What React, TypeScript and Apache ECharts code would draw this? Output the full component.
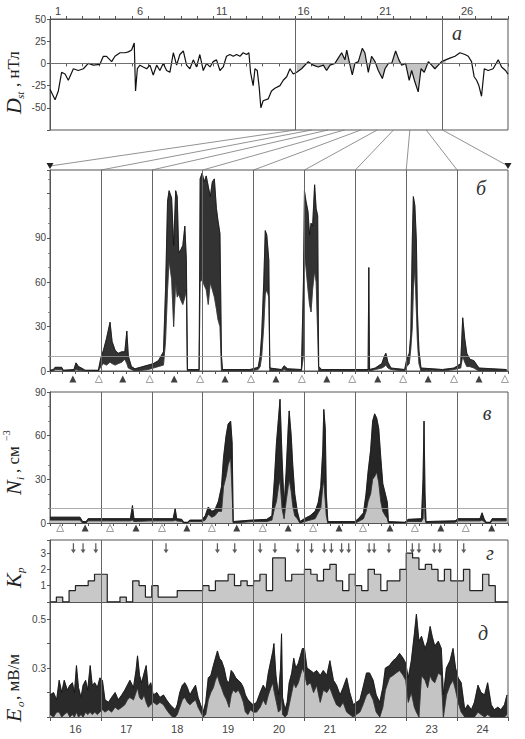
import React, { useEffect, useRef } from 'react';
import * as echarts from 'echarts';

// ---------- Panel а: Dst, nT (days of month) ----------
const DST_DAYS = [1.0,1.31,1.51,1.71,1.92,2.12,2.43,2.73,3.04,3.34,3.65,4.05,4.26,4.46,4.77,4.97,5.28,5.58,5.79,5.99,6.15,6.23,6.34,6.5,6.7,6.91,7.11,7.31,7.52,7.72,7.92,8.13,8.33,8.54,8.74,8.94,9.15,9.35,9.55,9.76,9.96,10.16,10.37,10.57,10.78,10.98,11.18,11.39,11.59,11.79,12.0,12.2,12.41,12.61,12.81,13.02,13.16,13.26,13.42,13.53,13.67,13.79,13.89,14.03,14.34,14.54,14.75,15.06,15.26,15.47,15.67,15.87,16.08,16.38,16.79,17.09,17.4,17.71,17.91,18.12,18.42,18.62,18.83,19.03,19.14,19.34,19.48,19.64,19.85,20.09,20.25,20.46,20.66,20.87,21.07,21.32,21.48,21.69,21.89,22.13,22.33,22.5,22.74,22.96,23.11,23.31,23.51,23.68,23.88,24.13,24.33,24.53,24.74,24.94,25.19,25.45,25.76,26.06,26.37,26.57,26.77,26.93,27.08,27.22,27.38,27.55,27.79,28.09,28.4,28.61,28.85,29.0];
const DST_VALUES = [-29,-41,-31,-10,-12,-19,-6,-8,-6,0,-2,-1,8,8,2,8,12,12,13,15,23,-31,-6,-2,-4,-6,-2,-13,-2,-8,0,-8,-10,12,-2,10,14,-2,-6,4,-4,10,-8,0,-4,2,4,-8,-4,8,10,8,10,8,12,10,12,-10,-25,-6,-8,-27,-50,-42,-40,-31,-28,-25,-19,-15,-6,-12,-10,-6,2,-2,-4,-2,-8,-2,0,6,12,4,15,-2,-13,0,2,17,12,-10,8,2,-8,-17,-6,0,0,14,4,-2,0,-19,-8,-21,-32,-6,-10,2,-2,-6,-2,2,4,6,8,12,10,8,2,-15,-19,-25,-37,-6,-8,-6,4,-4,-8,-12];
const TOP_DAY_LABELS = ['1','2','3','4','5','6','7','8','9','10','11','12','13','14','15','16','17','18','19','20','21','22','23','24','25','26','27','28'];
const DST_TICKS = [-75, -50, -25, 0, 25, 50];

// ---------- Panel б ----------
const B_DAYS = [16.0,16.065,16.1,16.23,16.26,16.47,16.51,16.56,16.62,16.69,16.95,17.0,17.05,17.11,17.18,17.22,17.28,17.34,17.41,17.47,17.51,17.54,17.6,17.67,17.93,18.03,18.13,18.23,18.27,18.31,18.34,18.39,18.43,18.47,18.5,18.53,18.57,18.61,18.65,18.68,18.7,18.93,18.95,18.99,19.03,19.07,19.11,19.15,19.19,19.23,19.27,19.3,19.34,19.37,19.39,19.93,20.09,20.13,20.16,20.2,20.23,20.26,20.3,20.32,20.55,20.6,20.67,20.94,20.98,21.0,21.03,21.07,21.1,21.13,21.16,21.2,21.23,21.26,21.28,21.34,22.25,22.265,22.28,22.39,22.52,22.57,22.6,22.64,22.7,22.97,23.01,23.06,23.09,23.12,23.14,23.17,23.2,23.22,23.25,23.29,23.52,23.71,23.94,24.07,24.11,24.15,24.19,24.25,24.33,24.43,24.97];
const B_LOW = [0,0,1,1,0,0,1,0.5,0.5,0,0,3,5,4,6,5,4,5,6,8,5,2,1,0,1,2,3,4,20,55,75,62,30,60,50,52,48,45,50,55,0,0,60,62,58,55,45,60,55,50,42,35,30,0,0,0,1,3,10,30,52,55,50,0,0,1,0,0,10,80,70,55,45,40,55,68,60,25,0,0,0,2,0,1,2,3,4,2,1,0,3,5,15,30,55,70,40,20,5,0,0.5,0,1,2,10,6,3,3,2,0,0];
const B_HIGH = [0.5,1,2.5,2.5,0.5,1,5.5,3,2,0.5,0.5,9,14,22,33,20,14,12,13,13,27,10,3,1.5,4,5,7,13,55,115,122,117,85,122,118,80,82,85,98,75,1,1,130,134,128,132,125,118,128,130,110,102,93,10,1,1,2.5,10,25,60,95,92,75,2,1,3.5,1.5,1,60,122,115,108,92,100,98,126,110,105,3,1,1,70,1,2,5,10,12,6,2,1,8,12,25,90,118,112,88,40,14,2,1.5,1,2,5,36,22,12,8,7,2,1];
const B_TICKS = [0, 30, 60, 90];
const B_TRI_OPEN = [16.96,17.96,18.95,19.95,20.95,21.94,22.94,23.94,24.94];
const B_TRI_FILLED = [16.45,17.43,18.44,19.44,20.44,21.44,22.44,23.43,24.43];

// ---------- Panel в: Ni, cm^-3 ----------
const V_DAYS = [16.0,16.33,16.59,16.64,16.71,16.75,17.18,17.58,17.62,17.65,17.96,18.42,18.46,18.49,18.59,18.63,18.7,18.75,18.98,19.05,19.11,19.18,19.24,19.31,19.37,19.41,19.46,19.5,19.55,19.58,19.6,19.96,20.26,20.36,20.41,20.45,20.49,20.52,20.56,20.6,20.64,20.68,20.7,20.74,20.77,20.81,20.86,20.91,21.0,21.11,21.21,21.27,21.32,21.36,21.38,21.41,21.43,21.46,21.99,22.06,22.16,22.21,22.25,22.3,22.34,22.38,22.42,22.46,22.5,22.54,22.59,22.63,22.65,22.97,23.04,23.3,23.33,23.35,23.37,23.39,23.96,24.02,24.45,24.49,24.53,24.57,24.65,24.69,24.97];
const V_LOW = [2,2,2,0,0,1.5,1.5,1.5,2,1,1.5,1.5,2,1.5,1,0,0,1,1,2,6,4,5,8,8,25,32,40,45,20,0,1,1,2,10,15,25,30,10,3,15,25,30,22,12,5,3,0,1,2,3,7,10,25,30,15,5,0,0,1,3,8,15,20,30,32,35,28,15,8,5,3,0,0,1,1,3,20,3,0,0.5,1.5,1.5,2,1,0,0,1.5,1.5];
const V_HIGH = [4,4,4,1,1,3,3,3,12,3,3,3,10,3,2.5,0.5,0.5,2,2,5,11,8,9,15,25,45,60,68,70,55,1,2,2.5,5,30,55,72,85,45,12,35,65,77,60,40,20,8,1,3,5,8,14,25,50,78,65,20,1,1,3,7,20,35,50,70,75,72,65,45,27,20,14,1,0.5,2.5,3,30,70,20,1,1.5,3,3,7,3,0.5,0.5,3,3];
const V_TICKS = [0, 30, 60, 90];
const V_TRI_OPEN = [16.2,17.18,18.2,19.18,20.18,21.17,22.15,23.17,24.17];
const V_TRI_FILLED = [16.69,17.69,18.69,19.67,20.68,21.68,22.68,23.68,24.68];

// ---------- Panel г: Kp, 3-hour values from 16 to 24 ----------
const KP_VALUES = [
  0,0.3,0,0.7,1.0,1.0,1.3,1.7,
  1.7,0,0,0.3,0,1.3,1.0,0.3,
  1.0,0.3,0.3,0.3,0.7,0.7,0.7,0.7,
  1.0,0.7,1.3,1.3,1.7,1.0,1.3,1.0,
  1.3,1.7,0.7,2.7,2.7,1.3,1.7,1.7,
  2.0,1.7,1.3,2.0,2.3,1.3,0.7,1.7,
  1.0,0.7,2.0,1.7,0.7,1.3,1.3,2.0,
  3.0,2.7,2.0,2.3,2.0,1.3,2.0,1.3,
  1.3,2.0,0.7,0.7,1.7,1.0,0,0
];
const KP_ARROWS = [16.46,16.65,16.90,18.28,19.29,19.63,20.13,20.42,20.87,21.14,21.39,21.53,21.73,21.87,22.27,22.37,22.66,23.12,23.25,23.55,23.66,24.13];
const KP_TICKS = [1, 2, 3];

// ---------- Panel д: Eo, mV/m ----------
const E_DAYS = [16.0,16.07,16.13,16.18,16.23,16.28,16.34,16.39,16.44,16.48,16.52,16.56,16.61,16.65,16.70,16.74,16.79,16.83,16.88,16.93,16.98,17.03,17.08,17.15,17.21,17.28,17.34,17.41,17.47,17.52,17.57,17.64,17.69,17.72,17.76,17.80,17.85,17.89,17.93,17.98,18.03,18.10,18.16,18.23,18.29,18.36,18.41,18.46,18.50,18.55,18.60,18.65,18.70,18.75,18.80,18.86,18.91,18.96,19.01,19.06,19.11,19.16,19.21,19.25,19.29,19.33,19.37,19.42,19.47,19.52,19.56,19.60,19.65,19.70,19.75,19.80,19.84,19.89,19.94,19.99,20.06,20.13,20.19,20.24,20.29,20.34,20.38,20.40,20.44,20.49,20.53,20.55,20.57,20.62,20.66,20.70,20.75,20.79,20.83,20.88,20.92,20.96,21.00,21.05,21.12,21.18,21.24,21.31,21.37,21.44,21.50,21.57,21.63,21.70,21.76,21.83,21.89,21.96,22.02,22.09,22.15,22.22,22.28,22.35,22.41,22.48,22.54,22.59,22.67,22.74,22.80,22.87,22.94,22.99,23.04,23.10,23.16,23.20,23.25,23.30,23.37,23.42,23.47,23.51,23.56,23.63,23.69,23.73,23.79,23.86,23.92,23.97,24.02,24.08,24.15,24.21,24.28,24.34,24.41,24.47,24.54,24.60,24.67,24.73,24.80,24.86,24.93,24.98];
const E_LOW = [0.11,0.10,0.12,0.12,0.10,0.11,0.12,0.10,0.11,0.10,0.12,0.10,0.11,0.10,0.12,0.11,0.12,0.11,0.12,0.11,0.12,0.13,0.12,0.13,0.12,0.14,0.13,0.14,0.15,0.17,0.18,0.17,0.20,0.22,0.18,0.17,0.19,0.16,0.14,0.15,0.16,0.15,0.16,0.15,0.13,0.11,0.10,0.10,0.11,0.14,0.17,0.18,0.16,0.15,0.16,0.17,0.14,0.12,0.10,0.11,0.17,0.20,0.22,0.25,0.27,0.24,0.22,0.19,0.17,0.14,0.19,0.21,0.20,0.21,0.19,0.16,0.12,0.11,0.13,0.12,0.12,0.14,0.17,0.15,0.19,0.22,0.24,0.21,0.17,0.12,0.13,0.20,0.11,0.10,0.11,0.15,0.20,0.24,0.22,0.24,0.27,0.30,0.28,0.23,0.24,0.20,0.23,0.16,0.21,0.20,0.22,0.18,0.15,0.14,0.16,0.12,0.11,0.10,0.11,0.12,0.15,0.19,0.20,0.17,0.12,0.10,0.14,0.21,0.26,0.27,0.28,0.29,0.27,0.25,0.16,0.20,0.14,0.12,0.10,0.27,0.25,0.22,0.27,0.25,0.24,0.28,0.27,0.10,0.19,0.23,0.25,0.21,0.16,0.12,0.10,0.10,0.10,0.10,0.12,0.11,0.10,0.11,0.10,0.10,0.10,0.10,0.10,0.11];
const E_HIGH = [0.19,0.20,0.17,0.25,0.20,0.25,0.21,0.23,0.24,0.20,0.31,0.22,0.18,0.23,0.25,0.21,0.31,0.23,0.24,0.22,0.26,0.25,0.17,0.16,0.18,0.20,0.17,0.19,0.21,0.23,0.25,0.22,0.29,0.35,0.27,0.24,0.28,0.31,0.22,0.24,0.19,0.20,0.18,0.19,0.17,0.15,0.14,0.13,0.15,0.20,0.23,0.24,0.22,0.19,0.21,0.23,0.18,0.15,0.12,0.16,0.26,0.27,0.31,0.34,0.37,0.34,0.33,0.30,0.25,0.24,0.29,0.28,0.26,0.25,0.24,0.22,0.19,0.17,0.16,0.15,0.16,0.20,0.23,0.21,0.28,0.33,0.37,0.40,0.27,0.19,0.30,0.44,0.18,0.13,0.16,0.24,0.28,0.34,0.30,0.32,0.35,0.38,0.38,0.30,0.29,0.28,0.29,0.27,0.29,0.27,0.33,0.25,0.23,0.19,0.22,0.26,0.20,0.15,0.16,0.17,0.22,0.28,0.28,0.25,0.19,0.16,0.22,0.30,0.31,0.33,0.34,0.36,0.34,0.32,0.26,0.33,0.44,0.52,0.41,0.43,0.38,0.41,0.47,0.43,0.39,0.41,0.38,0.19,0.30,0.33,0.38,0.30,0.26,0.24,0.13,0.15,0.13,0.16,0.23,0.20,0.19,0.24,0.15,0.13,0.14,0.13,0.15,0.19];
const E_TICKS = [0.3, 0.5];
const BOTTOM_DAY_LABELS = ['16','17','18','19','20','21','22','23','24'];

// day boundaries shared by the lower panels
const DAY_BOUNDS = [17, 18, 19, 20, 21, 22, 23, 24];
const LINK_DAYS = [16, 17, 18, 19, 20, 21, 22, 23, 24, 25];

const SANS = '"Liberation Sans", Arial, sans-serif';
const SERIF = '"Liberation Serif", "DejaVu Serif", serif';
const FRAME = '#555';
const LABEL = '#444';
const ARROW_PATH = 'path://M3,0 L5,0 L5,10 L8,10 L4,16 L0,10 L3,10 Z';

function near(a: number, list: number[]) {
  return list.some((t) => Math.abs(t - a) < 1e-6);
}

function vLines(extra: any[] = []) {
  return {
    silent: true,
    symbol: ['none', 'none'],
    label: { show: false },
    animation: false,
    lineStyle: { color: '#666', width: 1, type: 'solid' },
    data: [...DAY_BOUNDS.map((d) => ({ xAxis: d })), ...extra],
  };
}

// envelope band: lower line (optional grey fill under it), filled polygon between envelopes, upper line
function band(xi: number, yi: number, days: number[], lo: number[], hi: number[],
  loArea: string | null, bandColor: string, markLine: any) {
  return [
    {
      type: 'line', xAxisIndex: xi, yAxisIndex: yi, symbol: 'none', silent: true,
      data: days.map((d, i) => [d, lo[i]]),
      lineStyle: { color: '#222', width: 0.6 },
      areaStyle: loArea ? { color: loArea, opacity: 1 } : undefined,
      z: 2,
    },
    {
      type: 'custom', xAxisIndex: xi, yAxisIndex: yi, silent: true, clip: true, z: 3,
      data: [[days[0], lo[0]]],
      renderItem: (_p: any, api: any) => {
        const pts: number[][] = days.map((d, i) => api.coord([d, hi[i]]));
        for (let i = days.length - 1; i >= 0; i--) pts.push(api.coord([days[i], lo[i]]));
        return { type: 'polygon', shape: { points: pts }, style: { fill: bandColor, stroke: bandColor, lineWidth: 0.5 } };
      },
    },
    {
      type: 'line', xAxisIndex: xi, yAxisIndex: yi, symbol: 'none', silent: true,
      data: days.map((d, i) => [d, hi[i]]),
      lineStyle: { color: '#111', width: 0.8 },
      z: 4,
      markLine,
    },
  ];
}

function valueAxisX(gridIndex: number, min: number, max: number, ticks: boolean, interval = 1) {
  return {
    gridIndex, type: 'value', min, max, interval,
    axisLine: { show: true, lineStyle: { color: FRAME } },
    axisTick: { show: ticks, length: 3, lineStyle: { color: FRAME } },
    axisLabel: { show: false },
    splitLine: { show: false },
  };
}

function yAx(gridIndex: number, min: number, max: number, interval: number, shown: number[], minor = false) {
  return {
    gridIndex, type: 'value', min, max, interval,
    axisLine: { show: true, lineStyle: { color: FRAME } },
    axisTick: { show: true, length: 3, lineStyle: { color: FRAME } },
    minorTick: { show: minor, splitNumber: 3, length: 2, lineStyle: { color: '#888' } },
    splitLine: { show: false },
    axisLabel: {
      fontSize: 10, color: LABEL, fontFamily: SANS, margin: 4,
      formatter: (v: number) => (near(v, shown) ? String(Math.round(v * 10) / 10) : ''),
    },
  };
}

function buildOption() {
  const gridBase = { show: true, borderColor: FRAME, borderWidth: 1, backgroundColor: 'transparent', containLabel: false };
  const dstStorm = DST_DAYS.map((d, i) => [d, DST_VALUES[i]]).filter((p) => p[0] >= 15.9 && p[0] <= 25.2);
  const kpData = KP_VALUES.map((v, i) => [16 + i / 8, v]);
  kpData.push([25, KP_VALUES[KP_VALUES.length - 1]]);

  return {
    animation: false,
    backgroundColor: '#fff',
    grid: [
      { ...gridBase, left: 50, top: 19, width: 458, height: 111 },
      { ...gridBase, left: 50, top: 170, width: 458, height: 201 },
      { ...gridBase, left: 50, top: 392, width: 458, height: 131 },
      { ...gridBase, left: 50, top: 540, width: 458, height: 62 },
      { ...gridBase, left: 50, top: 602, width: 458, height: 115 },
      { show: false, left: 50, top: 373, width: 458, height: 12 },
      { show: false, left: 50, top: 522, width: 458, height: 12 },
    ],
    xAxis: [
      valueAxisX(0, 1, 29, true, 1),
      {
        gridIndex: 0, type: 'category', data: TOP_DAY_LABELS, position: 'top', boundaryGap: true,
        axisLine: { show: true, lineStyle: { color: FRAME } },
        axisTick: { show: true, interval: 0, length: 3, lineStyle: { color: FRAME } },
        axisLabel: { interval: 4, fontSize: 11, color: LABEL, fontFamily: SANS, margin: 3 },
        splitLine: { show: false },
      },
      valueAxisX(1, 16, 25, true, 0.25),
      valueAxisX(2, 16, 25, true, 0.25),
      valueAxisX(3, 16, 25, false, 1),
      valueAxisX(4, 16, 25, false, 1),
      {
        gridIndex: 4, type: 'category', data: BOTTOM_DAY_LABELS, position: 'bottom', boundaryGap: true,
        axisLine: { show: false },
        axisTick: { show: true, interval: 0, length: 4, lineStyle: { color: FRAME } },
        axisLabel: { fontSize: 11, color: LABEL, fontFamily: SANS, margin: 6 },
        splitLine: { show: false },
      },
      { gridIndex: 5, type: 'value', min: 16, max: 25, show: false },
      { gridIndex: 6, type: 'value', min: 16, max: 25, show: false },
    ],
    yAxis: [
      yAx(0, -75, 50, 25, DST_TICKS.filter((v) => v !== -75)),
      yAx(1, 0, 136, 30, B_TICKS, true),
      yAx(2, 0, 90, 30, V_TICKS, true),
      yAx(3, 0, 3.8, 1, KP_TICKS),
      yAx(4, 0.1, 0.57, 0.1, E_TICKS),
      { gridIndex: 5, type: 'value', min: 0, max: 1, show: false },
      { gridIndex: 6, type: 'value', min: 0, max: 1, show: false },
    ],
    series: [
      // а
      {
        type: 'line', xAxisIndex: 0, yAxisIndex: 0, symbol: 'none', silent: true, z: 1,
        data: dstStorm, lineStyle: { width: 0, opacity: 0 },
        areaStyle: { color: '#c4c4c4', opacity: 1 },
      },
      {
        type: 'line', xAxisIndex: 0, yAxisIndex: 0, symbol: 'none', silent: true, z: 3,
        data: DST_DAYS.map((d, i) => [d, DST_VALUES[i]]),
        lineStyle: { color: '#111', width: 1.2 },
        markLine: {
          silent: true, symbol: ['none', 'none'], label: { show: false }, animation: false,
          lineStyle: { color: '#666', width: 1, type: 'solid' },
          data: [{ xAxis: 16 }, { xAxis: 25 }, { yAxis: 0, lineStyle: { color: '#777', width: 0.8, type: 'solid' } }],
        },
      },
      // б
      ...band(2, 1, B_DAYS, B_LOW, B_HIGH, null, '#333',
        vLines([{ yAxis: 10, lineStyle: { color: '#999', width: 0.8, type: 'solid' } }])),
      // в
      ...band(3, 2, V_DAYS, V_LOW, V_HIGH, '#c4c4c4', '#262626',
        vLines([{ yAxis: 10, lineStyle: { color: '#999', width: 0.8, type: 'solid' } }])),
      // г
      {
        type: 'line', xAxisIndex: 4, yAxisIndex: 3, symbol: 'none', silent: true, step: 'end', z: 3,
        data: kpData,
        lineStyle: { color: '#222', width: 1.2 },
        areaStyle: { color: '#c8c8c8', opacity: 1 },
        markLine: vLines(),
      },
      {
        type: 'scatter', xAxisIndex: 4, yAxisIndex: 3, silent: true, z: 4,
        symbol: ARROW_PATH, symbolSize: [5, 10],
        data: KP_ARROWS.map((d) => [d, 3.3]),
        itemStyle: { color: '#333' },
      },
      // д
      ...band(5, 4, E_DAYS, E_LOW, E_HIGH, '#c4c4c4', '#2a2a2a', vLines()),
      // triangles
      {
        type: 'scatter', xAxisIndex: 7, yAxisIndex: 5, silent: true, symbol: 'triangle', symbolSize: 7,
        data: B_TRI_OPEN.map((d) => [d, 0.5]),
        itemStyle: { color: '#fff', borderColor: '#888', borderWidth: 1 },
      },
      {
        type: 'scatter', xAxisIndex: 7, yAxisIndex: 5, silent: true, symbol: 'triangle', symbolSize: 7,
        data: B_TRI_FILLED.map((d) => [d, 0.5]),
        itemStyle: { color: '#111' },
      },
      {
        type: 'scatter', xAxisIndex: 8, yAxisIndex: 6, silent: true, symbol: 'triangle', symbolSize: 7,
        data: V_TRI_OPEN.map((d) => [d, 0.5]),
        itemStyle: { color: '#fff', borderColor: '#888', borderWidth: 1 },
      },
      {
        type: 'scatter', xAxisIndex: 8, yAxisIndex: 6, silent: true, symbol: 'triangle', symbolSize: 7,
        data: V_TRI_FILLED.map((d) => [d, 0.5]),
        itemStyle: { color: '#111' },
      },
    ],
  };
}

function axisName(x: number, y: number, main: string, sub: string, rest: string, sup?: string) {
  const children: any[] = [
    { type: 'text', x: 0, y: 0, style: { text: main, fontSize: 22, fontStyle: 'italic', fontFamily: SERIF, fill: '#222', textVerticalAlign: 'middle' } },
    { type: 'text', x: 15, y: 7, style: { text: sub, fontSize: 11, fontStyle: 'italic', fontFamily: SERIF, fill: '#222', textVerticalAlign: 'middle' } },
  ];
  if (rest) {
    children.push({ type: 'text', x: 15 + sub.length * 5 + 2, y: 0, style: { text: rest, fontSize: 17, fontFamily: SERIF, fill: '#222', textVerticalAlign: 'middle' } });
  }
  if (sup) {
    children.push({ type: 'text', x: 15 + sub.length * 5 + 2 + rest.length * 8, y: -7, style: { text: sup, fontSize: 10, fontFamily: SERIF, fill: '#222', textVerticalAlign: 'middle' } });
  }
  return { type: 'group', x, y, rotation: Math.PI / 2, children };
}

function panelLetter(x: number, y: number, t: string) {
  return { type: 'text', x, y, style: { text: t, fontSize: 20, fontStyle: 'italic', fontFamily: SERIF, fill: '#333', textAlign: 'center', textVerticalAlign: 'middle' } };
}

export default function App() {
  const ref = useRef<HTMLDivElement>(null);
  useEffect(() => {
    document.body.style.margin = '0';
    const chart = echarts.init(ref.current as HTMLDivElement, null, { renderer: 'svg' });
    chart.setOption(buildOption() as any);

    const yA = chart.convertToPixel({ yAxisIndex: 0 } as any, -75) as unknown as number;
    const yB = chart.convertToPixel({ yAxisIndex: 1 } as any, 136) as unknown as number;
    const graphics: any[] = [];
    LINK_DAYS.forEach((d, i) => {
      const xa = chart.convertToPixel({ xAxisIndex: 0 } as any, d) as unknown as number;
      const xb = chart.convertToPixel({ xAxisIndex: 2 } as any, d) as unknown as number;
      const edge = i === 0 || i === LINK_DAYS.length - 1;
      const end = edge ? yB - 4 : yB;
      graphics.push({ type: 'line', silent: true, shape: { x1: xa, y1: yA, x2: xb, y2: end }, style: { stroke: '#777', lineWidth: 0.8 } });
      if (edge) {
        graphics.push({ type: 'polygon', silent: true, shape: { points: [[xb - 3.5, end - 3], [xb + 3.5, end - 3], [xb, end + 3]] }, style: { fill: '#222' } });
      }
    });
    graphics.push(axisName(13, 114, 'D', 'st', ', нТл'));
    graphics.push(axisName(13, 495, 'N', 'i', ', см', '−3'));
    graphics.push(axisName(13, 588, 'K', 'p', ''));
    graphics.push(axisName(13, 722, 'E', 'o', ', мВ/м'));
    graphics.push(panelLetter(457, 33, 'а'));
    graphics.push(panelLetter(481, 188, 'б'));
    graphics.push(panelLetter(487, 413, 'в'));
    graphics.push(panelLetter(490, 553, 'г'));
    graphics.push(panelLetter(483, 633, 'д'));
    chart.setOption({ graphic: graphics } as any);

    return () => chart.dispose();
  }, []);
  return <div ref={ref} style={{ width: 525, height: 739 }} />;
}
